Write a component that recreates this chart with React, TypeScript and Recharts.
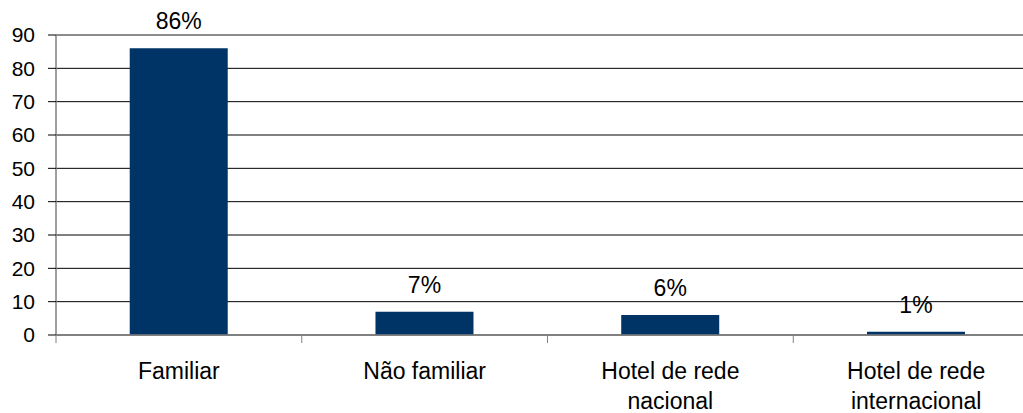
import React from 'react';
import {
  BarChart,
  Bar,
  XAxis,
  YAxis,
  CartesianGrid,
  ReferenceLine,
  LabelList,
} from 'recharts';

const categories = ['Familiar', 'Não familiar', 'Hotel de rede nacional', 'Hotel de rede internacional'];
const shares = [86, 7, 6, 1];
const yTicks = [0, 10, 20, 30, 40, 50, 60, 70, 80, 90];

const FONT = '"Liberation Sans", Arial, Helvetica, sans-serif';
const X_TICK_SIZE = 8;
const X_TICK_MARGIN = 19;

// greedy word wrap by character count
function wrap(label: string, maxChars: number) {
  const lines: string[] = [];
  let cur = '';
  label.split(' ').forEach((w) => {
    const next = cur ? cur + ' ' + w : w;
    if (next.length > maxChars && cur) {
      lines.push(cur);
      cur = w;
    } else {
      cur = next;
    }
  });
  if (cur) lines.push(cur);
  return lines;
}

const CategoryTick = (props: any) => {
  const { x, y, payload } = props;
  const axisY = y - X_TICK_SIZE - X_TICK_MARGIN;
  const half = payload && payload.offset ? payload.offset : 122.9;
  const bx = x - half;
  const lines = wrap(String(payload.value), 14);
  return (
    <g>
      <line x1={bx} y1={axisY} x2={bx} y2={axisY + X_TICK_SIZE} stroke="#808080" strokeWidth={1} />
      <text x={x} y={y + 16.5} textAnchor="middle" fontSize={23} fontFamily={FONT} fill="#000">
        {lines.map((l, i) => (
          <tspan key={i} x={x} dy={i === 0 ? 0 : 30}>
            {l}
          </tspan>
        ))}
      </text>
    </g>
  );
};

export default function App() {
  const data = categories.map((name, i) => ({ name, value: shares[i] }));

  return (
    <div style={{ position: 'absolute', left: 0, top: 0, width: 1023, height: 413, overflow: 'hidden', background: '#fff' }}>
      <BarChart
        width={1039}
        height={413}
        data={data}
        margin={{ top: 35, right: 0, left: 0, bottom: 0 }}
        barCategoryGap="30%"
        style={{ overflow: 'visible' }}
      >
        <CartesianGrid vertical={false} stroke="#000" strokeWidth={1} />
        <XAxis
          dataKey="name"
          height={78}
          interval={0}
          tickLine={false}
          tickSize={X_TICK_SIZE}
          tickMargin={X_TICK_MARGIN}
          axisLine={{ stroke: '#808080', strokeWidth: 1.5 }}
          tick={<CategoryTick />}
        />
        <YAxis
          width={56}
          domain={[0, 90]}
          ticks={yTicks}
          interval={0}
          tickSize={8}
          tickMargin={13}
          axisLine={{ stroke: '#808080', strokeWidth: 1.5 }}
          tickLine={{ stroke: '#000' }}
          tick={{ fill: '#000', fontSize: 21, fontFamily: FONT }}
        />
        <ReferenceLine y={90} stroke="#909090" strokeWidth={1.5} />
        <Bar dataKey="value" fill="#003366" isAnimationActive={false}>
          <LabelList
            dataKey="value"
            position="top"
            offset={19}
            formatter={(v: any) => `${v}%`}
            fill="#000"
            fontSize={23}
            fontFamily={FONT}
          />
        </Bar>
      </BarChart>
    </div>
  );
}
